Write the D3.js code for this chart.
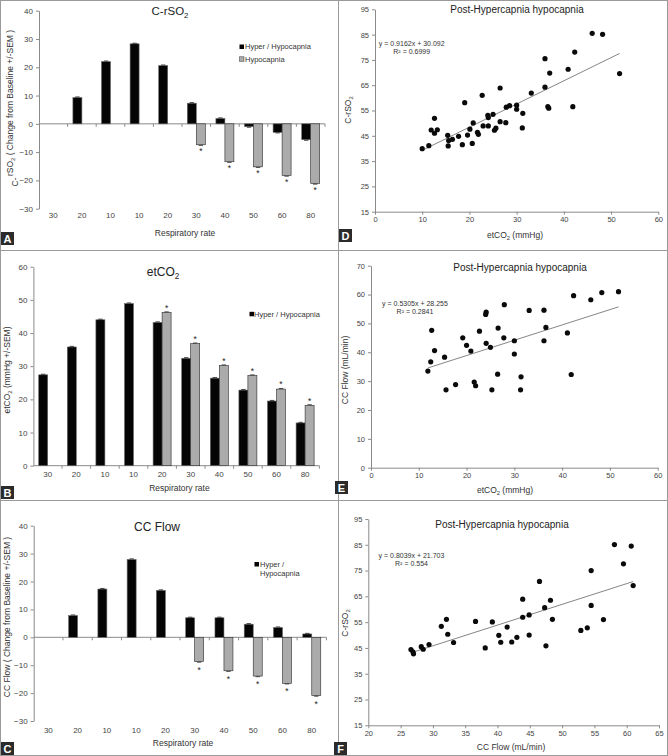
<!DOCTYPE html>
<html><head><meta charset="utf-8">
<script src="https://cdn.jsdelivr.net/npm/d3@7"></script>
<style>
body{margin:0;background:#fff;}
svg{display:block;font-family:"Liberation Sans",Arial,sans-serif;}
</style></head><body>
<svg id="c" width="668" height="756"></svg>
<script>
// ---------- DATA ----------
const rateLabels = ["30","20","10","10","20","30","40","50","60","80"];
// Panel A: C-rSO2 change from baseline
const aHyper = [null,9.3,22.0,28.3,20.6,7.3,1.9,-1.0,-3.0,-5.6];
const aHypo  = [null,null,null,null,null,-7.4,-13.4,-15.2,-18.3,-21.1];
const aTicks = [-30,-20,-10,0,10,20,30,40];
// Panel B: etCO2
const bHyper = [27.4,35.8,44.0,48.9,43.2,32.4,26.4,22.8,19.5,12.9];
const bHypo  = [null,null,null,null,46.2,36.8,30.2,27.2,23.1,18.2];
const bTicks = [0,10,20,30,40,50,60];
// Panel C: CC Flow change from baseline
const cHyper = [null,7.8,17.3,27.9,16.8,7.0,7.0,4.7,3.5,1.2];
const cHypo  = [null,null,null,null,null,-8.7,-12.0,-13.9,-16.5,-20.9];
const cTicks = [-30,-20,-10,0,10,20,30,40];
// Panel D: etCO2 vs C-rSO2
const dX = [10.0,11.4,11.9,12.6,12.6,13.2,15.4,15.5,15.6,16.4,17.7,18.5,19.0,19.6,20.1,20.6,20.8,21.7,21.9,22.7,22.9,23.9,24.0,24.0,25.0,25.3,25.6,26.5,26.5,27.7,27.8,28.5,30.0,30.0,31.3,31.2,33.1,36.0,36.0,36.6,36.8,37.0,40.9,41.9,42.3,46.0,48.2,51.8];
const dY = [39.9,41.1,47.3,51.9,46.0,47.4,45.2,41.0,43.1,43.6,44.8,41.5,58.1,45.3,47.6,42.0,50.1,46.4,45.6,61.0,48.9,53.1,52.2,48.9,53.5,47.2,48.0,63.9,50.6,50.2,56.3,56.9,57.1,55.5,53.9,48.1,61.9,75.5,64.2,56.5,55.9,69.8,71.3,56.5,78.1,85.5,85.1,69.6];
const dFit = [0.9162, 30.092, 0.6999];
const dXTicks = [0,10,20,30,40,50,60];
const dYTicks = [15,25,35,45,55,65,75,85,95];
// Panel E: etCO2 vs CC Flow
const eX = [11.9,12.5,12.7,13.3,15.4,15.7,17.7,19.2,20.0,20.9,21.6,21.9,22.7,24.1,24.1,24.0,25.0,25.3,26.6,26.5,27.8,27.9,30.0,30.0,31.3,31.4,33.1,36.2,36.2,36.6,41.1,41.9,42.4,46.0,48.3,51.8];
const eY = [33.5,36.7,47.6,40.6,38.3,27.0,28.8,45.0,42.4,40.4,29.7,28.4,47.3,43.1,53.9,53.1,41.7,27.0,48.4,32.4,45.0,56.5,44.0,39.4,27.0,31.5,54.5,54.6,44.0,48.6,46.7,32.3,59.6,58.2,60.7,61.0];
const eFit = [0.5305, 28.255, 0.2841];
const eXTicks = [0,10,20,30,40,50,60];
const eYTicks = [0,10,20,30,40,50,60,70];
// Panel F: CC Flow vs C-rSO2
const fX = [26.6,26.9,27.0,28.2,28.5,29.4,31.3,32.1,32.3,33.2,36.6,38.1,39.2,40.2,40.5,41.5,42.2,43.0,43.9,43.9,44.9,44.9,46.5,47.3,47.5,48.2,48.5,52.9,53.9,54.5,54.5,56.4,58.1,59.5,60.7,61.0];
const fY = [44.4,43.5,42.7,45.5,44.5,46.3,53.4,56.1,50.3,47.1,55.3,45.0,55.1,49.9,47.2,53.1,47.3,49.1,63.9,56.9,57.8,50.0,70.8,60.6,45.8,63.5,56.1,51.8,52.8,75.0,61.5,56.0,85.1,77.6,84.5,69.2];
const fFit = [0.8039, 21.703, 0.554];
const fXTicks = [20,25,30,35,40,45,50,55,60,65];
const fYTicks = [15,25,35,45,55,65,75,85,95];

// ---------- DRAWING ----------
const svg = d3.select("#c");
const AX = "#8a8a8a", TXT = "#444";

// rich text with subscripts: parts = [[text, isSub], ...]
function rich(sel, parts, fs){
  let shift = 0;
  parts.forEach(([t, sub]) => {
    const target = sub ? fs*0.28 : 0;
    sel.append("tspan").attr("dy", target - shift)
      .attr("font-size", sub ? fs*0.68 : fs).text(t);
    shift = target;
  });
  return sel;
}

function letterBox(x, y, L){
  svg.append("rect").attr("x",x).attr("y",y).attr("width",13).attr("height",13).attr("fill","#2b2b2b");
  svg.append("text").attr("x",x+6.5).attr("y",y+11).attr("text-anchor","middle")
    .attr("font-size",11).attr("font-weight","bold").attr("fill","#fff").text(L);
}

function styleAxis(g){
  g.selectAll("path,line").attr("stroke",AX).attr("stroke-width",1);
  g.selectAll("text").attr("fill",TXT).attr("font-family","Liberation Sans, Arial, sans-serif");
}

function barPanel(c){
  const g = svg.append("g");
  const x = d3.scaleBand().domain(d3.range(rateLabels.length)).range([c.x0, c.x1]);
  const y = d3.scaleLinear().domain(c.yDomain).range([c.yB, c.yT]);
  const ya = g.append("g").attr("transform",`translate(${c.x0},0)`)
    .call(d3.axisLeft(y).tickValues(c.yTicks).tickSize(3).tickSizeOuter(0).tickPadding(3));
  ya.selectAll("text").attr("font-size",8);
  styleAxis(ya);
  const y0 = y(0);
  g.append("line").attr("x1",c.x0).attr("x2",c.x1).attr("y1",y0).attr("y2",y0).attr("stroke",AX);
  d3.range(1, rateLabels.length+1).forEach(k=>{
    const xx = c.x0 + k*x.step();
    g.append("line").attr("x1",xx).attr("x2",xx).attr("y1",y0).attr("y2",y0+3).attr("stroke",AX);
  });
  rateLabels.forEach((l,i)=>{
    g.append("text").attr("x",x(i)+x.bandwidth()/2).attr("y",c.labY).attr("text-anchor","middle")
      .attr("font-size",8).attr("fill",TXT).text(l);
  });
  const bw = c.bw;
  const drawBar = (v, i, off, fill, stroke) => {
    if (v == null) return;
    const cx = x(i)+x.bandwidth()/2 + off;
    const top = Math.min(y(v), y0), h = Math.abs(y(v)-y0);
    g.append("rect").attr("x",cx).attr("y",top).attr("width",bw).attr("height",Math.max(h,0.5))
      .attr("fill",fill).attr("stroke",stroke).attr("stroke-width",0.6);
    const ey = y(v) + (v>=0 ? -0.6 : 0.6);
    g.append("line").attr("x1",cx+bw/2-2.2).attr("x2",cx+bw/2+2.2).attr("y1",ey).attr("y2",ey)
      .attr("stroke","#222").attr("stroke-width",0.8);
  };
  c.hyper.forEach((v,i)=>drawBar(v,i,-bw,"#050505","#6a6a6a"));
  c.hypo.forEach((v,i)=>{
    drawBar(v,i,0,"#ababab","#2a2a2a");
    if (v != null){
      const cx = x(i)+x.bandwidth()/2 + bw/2;
      const by = v >= 0 ? y(v) - 1.8 : y(v) + c.starOff;
      g.append("text").attr("x",cx).attr("y",by).attr("text-anchor","middle")
        .attr("font-size",8.5).attr("fill","#222").text("*");
    }
  });
  // title
  rich(g.append("text").attr("x",c.title[0]).attr("y",c.title[1]).attr("text-anchor","middle")
    .attr("fill","#222"), c.titleParts, c.titleFs);
  g.append("text").attr("x",(c.x0+c.x1)/2+3).attr("y",c.xLabY).attr("text-anchor","middle")
    .attr("font-size",8.5).attr("fill","#333").text("Respiratory rate");
  return g;
}

function scatterPanel(c){
  const g = svg.append("g");
  const x = d3.scaleLinear().domain(c.xDomain).range([c.x0, c.x1]);
  const y = d3.scaleLinear().domain(c.yDomain).range([c.yB, c.yT]);
  const xa = g.append("g").attr("transform",`translate(0,${c.yB})`)
    .call(d3.axisBottom(x).tickValues(c.xTicks).tickSize(3).tickSizeOuter(0).tickPadding(2));
  xa.selectAll("text").attr("font-size",7.5);
  styleAxis(xa);
  const ya = g.append("g").attr("transform",`translate(${c.x0},0)`)
    .call(d3.axisLeft(y).tickValues(c.yTicks).tickSize(3).tickSizeOuter(0).tickPadding(3));
  ya.selectAll("text").attr("font-size",7.5);
  styleAxis(ya);
  const [m, b, r2] = c.fit;
  const xmin = d3.min(c.xs), xmax = d3.max(c.xs);
  g.append("line").attr("x1",x(xmin)).attr("y1",y(m*xmin+b)).attr("x2",x(xmax)).attr("y2",y(m*xmax+b))
    .attr("stroke","#666").attr("stroke-width",0.8);
  g.selectAll("circle.p").data(c.xs.map((v,i)=>[v,c.ys[i]])).join("circle")
    .attr("cx",d=>x(d[0])).attr("cy",d=>y(d[1])).attr("r",2.6).attr("fill","#0a0a0a");
  g.append("text").attr("x",c.eq[0]).attr("y",c.eq[1]).attr("text-anchor","middle")
    .attr("font-size",7).attr("fill","#333").text(`y = ${m}x + ${b}`);
  g.append("text").attr("x",c.eq[0]).attr("y",c.eq[1]+8.5).attr("text-anchor","middle")
    .attr("font-size",7).attr("fill","#333").text(`R² = ${r2}`);
  g.append("text").attr("x",c.title[0]).attr("y",c.title[1]).attr("text-anchor","middle")
    .attr("font-size",10).attr("fill","#222").text("Post-Hypercapnia hypocapnia");
  rich(g.append("text").attr("x",c.xLab[0]).attr("y",c.xLab[1]).attr("text-anchor","middle").attr("fill","#333"),
    c.xLabParts, 8.5);
  rich(g.append("text").attr("transform",`translate(${c.yLab[0]},${c.yLab[1]}) rotate(-90)`)
    .attr("text-anchor","middle").attr("fill","#333"), c.yLabParts, 8.5);
  return g;
}

// Panel borders
[[0.5,0.5,338,250],[338.5,0.5,329,250],[0.5,250.5,338,250],[338.5,250.5,329,250],[0.5,500.5,338,255],[338.5,500.5,329,255]]
  .forEach(r=>svg.append("rect").attr("x",r[0]).attr("y",r[1]).attr("width",r[2]).attr("height",r[3])
    .attr("fill","none").attr("stroke","#9a9a9a").attr("stroke-width",1));

// ---- A ----
barPanel({x0:39, x1:325, yT:10.7, yB:208.7, yDomain:[-30,40], yTicks:aTicks, bw:9,
  hyper:aHyper, hypo:aHypo, labY:218, xLabY:236, starOff:9.5,
  title:[170,15], titleParts:[["C-rSO",false],["2",true]], titleFs:11.5});
svg.append("rect").attr("x",239.5).attr("y",44.5).attr("width",4.5).attr("height",4.5).attr("fill","#000");
svg.append("text").attr("x",245).attr("y",49.3).attr("font-size",7.5).attr("fill","#333").text("Hyper / Hypocapnia");
svg.append("rect").attr("x",239.5).attr("y",56.8).attr("width",4.5).attr("height",4.5).attr("fill","#ababab").attr("stroke","#333").attr("stroke-width",0.5);
svg.append("text").attr("x",245).attr("y",61.6).attr("font-size",7.5).attr("fill","#333").text("Hypocapnia");
rich(svg.append("text").attr("transform","translate(13,103) rotate(-90)").attr("text-anchor","middle").attr("fill","#333"),
  [["rSO",false],["2",true],[" ( Change from Baseline +/-SEM )",false]], 8.5);
svg.append("text").attr("transform","translate(17.5,182) rotate(-90)").attr("text-anchor","middle")
  .attr("font-size",8.5).attr("fill","#333").text("C-");
letterBox(1,232,"A");

// ---- B ----
barPanel({x0:33.4, x1:319.4, yT:266.7, yB:465.7, yDomain:[0,60], yTicks:bTicks, bw:9,
  hyper:bHyper, hypo:bHypo, labY:476.5, xLabY:491, starOff:0,
  title:[163,276], titleParts:[["etCO",false],["2",true]], titleFs:12});
svg.append("rect").attr("x",249.5).attr("y",311.8).attr("width",4.5).attr("height",4.5).attr("fill","#000");
svg.append("text").attr("x",254).attr("y",316.6).attr("font-size",7.5).attr("fill","#333").text("Hyper / Hypocapnia");
rich(svg.append("text").attr("transform","translate(10,370) rotate(-90)").attr("text-anchor","middle").attr("fill","#333"),
  [["etCO",false],["2",true],["  (mmHg +/-SEM)",false]], 8.5);
letterBox(1,486,"B");

// ---- C ----
barPanel({x0:33.7, x1:326.4, yT:525.7, yB:721, yDomain:[-30,40], yTicks:cTicks, bw:9,
  hyper:cHyper, hypo:cHypo, labY:733, xLabY:746, starOff:11,
  title:[157,531], titleParts:[["CC Flow",false]], titleFs:12});
svg.append("rect").attr("x",254.5).attr("y",562).attr("width",4.5).attr("height",4.5).attr("fill","#000");
svg.append("text").attr("x",260).attr("y",566.8).attr("font-size",7.5).attr("fill","#333").text("Hyper /");
svg.append("text").attr("x",260).attr("y",576.3).attr("font-size",7.5).attr("fill","#333").text("Hypocapnia");
svg.append("text").attr("transform","translate(10,617) rotate(-90)").attr("text-anchor","middle")
  .attr("font-size",8.5).attr("fill","#333").text("CC Flow ( Change from Baseline +/-SEM )");
letterBox(1,742,"C");

// ---- D ----
scatterPanel({x0:375, x1:658.3, yT:9.3, yB:211.7, xDomain:[0,60], yDomain:[15,95],
  xTicks:dXTicks, yTicks:dYTicks, xs:dX, ys:dY, fit:dFit, eq:[411.7,45.8], title:[517,12.5],
  xLab:[515,238], xLabParts:[["etCO",false],["2",true],[" (mmHg)",false]],
  yLab:[351,110], yLabParts:[["C-rSO",false],["2",true]]});
letterBox(339,229,"D");

// ---- E ----
scatterPanel({x0:371, x1:657.7, yT:265.7, yB:467.7, xDomain:[0,60], yDomain:[0,70],
  xTicks:eXTicks, yTicks:eYTicks, xs:eX, ys:eY, fit:eFit, eq:[415,305.8], title:[520,270.5],
  xLab:[505,493], xLabParts:[["etCO",false],["2",true],[" (mmHg)",false]],
  yLab:[348,370], yLabParts:[["CC Flow (mL/min)",false]]});
letterBox(335,481,"E");

// ---- F ----
scatterPanel({x0:368.3, x1:659, yT:519, yB:725.3, xDomain:[20,65], yDomain:[15,95],
  xTicks:fXTicks, yTicks:fYTicks, xs:fX, ys:fY, fit:fFit, eq:[411.5,557.8], title:[502,528],
  xLab:[511,750], xLabParts:[["CC Flow (mL/min)",false]],
  yLab:[348,623], yLabParts:[["C-rSO",false],["2",true]]});
letterBox(334,742,"F");
</script>
</body></html>
